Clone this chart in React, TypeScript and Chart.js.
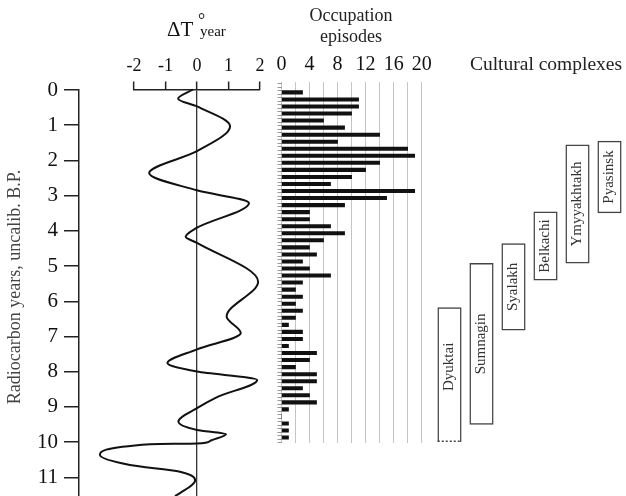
import React, { useEffect, useRef } from 'react';
import { Chart, registerables } from 'chart.js';

Chart.register(...registerables);

const W = 626;
const H = 496;
const SERIF = '"Liberation Serif", "Times New Roman", serif';

// ---- time axis (thousand radiocarbon years B.P.) ----
const TIME_MIN = 0;
const TIME_MAX = 11.53;

// ---- mean annual temperature anomaly curve ----
const tempAges = [0, 0.26, 0.48, 1.04, 1.75, 2.37, 2.86, 3.22, 3.92, 4.18, 4.35, 5.45, 6.44, 6.91, 7.37, 7.76, 8.0, 8.24, 8.73, 9.04, 9.42, 9.66, 9.78, 9.97, 10.04, 10.06, 10.37, 10.65, 10.84, 11.08, 11.45, 11.53];
const tempValues = [-0.13, -0.6, 0, 1.05, 0, -1.52, 0, 1.65, 0, -0.36, 0, 1.94, 0.94, 1.39, 0, -0.94, 0, 1.91, 0.62, 0, -0.59, 0, 0.92, 0.41, 0, -1.49, -3.08, -2.13, -0.54, -0.06, -0.54, -0.7];

// ---- occupation episodes per 200-year bin ----
const binAges = [0, 0.2, 0.4, 0.6, 0.8, 1.0, 1.2, 1.4, 1.6, 1.8, 2.0, 2.2, 2.4, 2.6, 2.8, 3.0, 3.2, 3.4, 3.6, 3.8, 4.0, 4.2, 4.4, 4.6, 4.8, 5.0, 5.2, 5.4, 5.6, 5.8, 6.0, 6.2, 6.4, 6.6, 6.8, 7.0, 7.2, 7.4, 7.6, 7.8, 8.0, 8.2, 8.4, 8.6, 8.8, 9.0, 9.2, 9.4, 9.6, 9.8];
const episodes = [3, 11, 11, 10, 6, 9, 14, 8, 18, 19, 14, 12, 10, 7, 19, 15, 9, 4, 4, 7, 9, 6, 4, 5, 3, 4, 7, 3, 2, 3, 2, 3, 2, 1, 3, 3, 1, 5, 4, 2, 5, 5, 3, 4, 5, 1, 0, 1, 1, 1];

// ---- cultural complexes (age ranges, kyr B.P.) ----
const cultureNames = ['Dyuktai', 'Sumnagin', 'Syalakh', 'Belkachi', 'Ymyyakhtakh', 'Pyasinsk'];
const cultureStart = [6.18, 4.92, 4.36, 3.46, 1.56, 1.45];
const cultureEnd = [10.0, 9.5, 6.82, 5.4, 4.92, 3.49];

const font = (size: number) => ({ family: SERIF, size, weight: 'normal' as const });

const base = {
  animation: false as const,
  responsive: false,
  maintainAspectRatio: false,
  devicePixelRatio: 1,
  events: [] as any[],
};

export default function App() {
  const c1 = useRef<HTMLCanvasElement>(null);
  const c2 = useRef<HTMLCanvasElement>(null);
  const c3 = useRef<HTMLCanvasElement>(null);
  const c4 = useRef<HTMLCanvasElement>(null);

  useEffect(() => {
    const charts: Chart[] = [];

    // ---------- chart 1: time axis ----------
    const yTitlePlugin = {
      id: 'yTitle',
      afterDraw(chart: any) {
        const ctx = chart.ctx;
        ctx.save();
        ctx.translate(15, 287);
        ctx.rotate(-Math.PI / 2);
        ctx.font = `18px ${SERIF}`;
        ctx.fillStyle = '#444';
        ctx.textAlign = 'center';
        ctx.textBaseline = 'middle';
        ctx.fillText('Radiocarbon years, uncalib. B.P.', 0, 0);
        ctx.restore();
      },
    };
    charts.push(
      new Chart(c1.current!, {
        type: 'scatter',
        data: { datasets: [] },
        options: {
          ...base,
          layout: { padding: { left: 0, top: 90, right: W - 79 - 20, bottom: 0 } },
          plugins: { legend: { display: false }, tooltip: { enabled: false }, title: { display: false } },
          scales: {
            x: { display: false, min: 0, max: 1 },
            y: {
              type: 'linear',
              reverse: true,
              min: TIME_MIN,
              max: TIME_MAX,
              afterFit: (s: any) => {
                s.width = 79;
                s.paddingTop = 0;
                s.paddingBottom = 0;
              },
              ticks: { stepSize: 1, includeBounds: false, font: font(21), color: '#111', padding: 6 },
              grid: { drawOnChartArea: false, drawTicks: true, tickLength: 15, color: '#222', lineWidth: 1.5 },
              border: { display: true, color: '#222', width: 1.5 },
            },
          },
        } as any,
        plugins: [yTitlePlugin],
      })
    );

    // ---------- chart 2: temperature anomaly ----------
    const tTitlePlugin = {
      id: 'tTitle',
      afterDraw(chart: any) {
        const ctx = chart.ctx;
        ctx.save();
        ctx.fillStyle = '#111';
        ctx.textBaseline = 'alphabetic';
        ctx.textAlign = 'left';
        ctx.font = `21px ${SERIF}`;
        ctx.fillText('ΔT', 167, 36);
        ctx.font = `18px ${SERIF}`;
        ctx.fillText('°', 198, 26);
        ctx.font = `15px ${SERIF}`;
        ctx.fillText('year', 200, 36);
        ctx.restore();
      },
    };
    charts.push(
      new Chart(c2.current!, {
        type: 'line',
        data: {
          datasets: [
            {
              data: tempAges.map((t, i) => ({ x: tempValues[i], y: t })),
              borderColor: '#111',
              borderWidth: 2,
              pointRadius: 0,
              cubicInterpolationMode: 'monotone',
              clip: false,
              fill: false,
            },
          ],
        },
        options: {
          ...base,
          indexAxis: 'y',
          layout: { padding: { left: 134, right: W - 260, top: 0, bottom: 0 } },
          elements: { line: { capBezierPoints: false } },
          plugins: { legend: { display: false }, tooltip: { enabled: false } },
          scales: {
            x: {
              type: 'linear',
              position: 'top',
              min: -2,
              max: 2,
              afterFit: (s: any) => {
                s.height = 89.5;
                s.paddingLeft = 0;
                s.paddingRight = 0;
              },
              ticks: { stepSize: 1, includeBounds: false, font: font(18), color: '#111', padding: 4, maxRotation: 0, autoSkip: false },
              grid: {
                color: (c: any) => (c.tick && c.tick.value === 0 ? '#333' : 'rgba(0,0,0,0)'),
                lineWidth: 1.3,
                drawOnChartArea: true,
                drawTicks: true,
                tickLength: 8,
                tickColor: '#222',
                tickWidth: 1.5,
              },
              border: { display: true, color: '#222', width: 1.5 },
            },
            y: { type: 'linear', display: false, reverse: true, min: TIME_MIN, max: TIME_MAX },
          },
        } as any,
        plugins: [tTitlePlugin],
      })
    );

    // ---------- chart 3: occupation episodes ----------
    const oTitlePlugin = {
      id: 'oTitle',
      afterDraw(chart: any) {
        const ctx = chart.ctx;
        ctx.save();
        ctx.fillStyle = '#222';
        ctx.font = `18px ${SERIF}`;
        ctx.textAlign = 'center';
        ctx.textBaseline = 'middle';
        ctx.fillText('Occupation', 351, 16);
        ctx.fillText('episodes', 351, 37);
        ctx.restore();
      },
    };
    charts.push(
      new Chart(c3.current!, {
        type: 'bar',
        data: {
          labels: binAges,
          datasets: [{ data: episodes, backgroundColor: '#111', borderWidth: 0, barThickness: 3.4 }],
        },
        options: {
          ...base,
          indexAxis: 'y',
          layout: { padding: { left: 277.5, right: W - 421.7, top: 0, bottom: H - 443 } },
          plugins: { legend: { display: false }, tooltip: { enabled: false } },
          scales: {
            x: {
              type: 'linear',
              position: 'top',
              min: 0,
              max: 20,
              afterFit: (s: any) => {
                s.height = 82;
                s.paddingLeft = 0;
                s.paddingRight = 0;
              },
              ticks: {
                stepSize: 2,
                includeBounds: false,
                autoSkip: false,
                maxRotation: 0,
                font: font(20),
                color: '#111',
                padding: 5,
                callback: (v: any) => (Number(v) % 4 === 0 ? String(v) : ''),
              },
              grid: { color: '#c4c4c4', lineWidth: 1, drawTicks: false },
              border: { display: false },
            },
            y: {
              type: 'linear',
              reverse: true,
              min: -0.245,
              max: 9.904,
              afterFit: (s: any) => {
                s.width = 4;
                s.paddingTop = 0;
                s.paddingBottom = 0;
              },
              ticks: { display: false, stepSize: 0.1, includeBounds: false },
              grid: { drawOnChartArea: false, drawTicks: true, tickLength: 4, color: '#999', lineWidth: 1 },
              border: { display: false },
            },
          },
        } as any,
        plugins: [oTitlePlugin],
      })
    );

    // ---------- chart 4: cultural complexes ----------
    const cLabelPlugin = {
      id: 'cLabels',
      afterDatasetsDraw(chart: any) {
        const ctx = chart.ctx;
        const meta = chart.getDatasetMeta(0);
        ctx.save();
        meta.data.forEach((el: any, i: number) => {
          const p = el.getProps(['x', 'y', 'base', 'width'], true);
          const top = Math.min(p.y, p.base);
          const bottom = Math.max(p.y, p.base);
          if (i === 0) {
            ctx.save();
            ctx.strokeStyle = '#444';
            ctx.lineWidth = 1.5;
            ctx.setLineDash([2, 2]);
            ctx.beginPath();
            ctx.moveTo(p.x - p.width / 2, bottom - 0.75);
            ctx.lineTo(p.x + p.width / 2, bottom - 0.75);
            ctx.stroke();
            ctx.restore();
          }
          const cy = i === 0 ? (top + bottom - 16) / 2 : (top + bottom) / 2;
          ctx.save();
          ctx.translate(p.x, cy);
          ctx.rotate(-Math.PI / 2);
          ctx.font = `15px ${SERIF}`;
          ctx.fillStyle = '#333';
          ctx.textAlign = 'center';
          ctx.textBaseline = 'middle';
          ctx.fillText(cultureNames[i], 0, 0);
          ctx.restore();
        });
        ctx.fillStyle = '#222';
        ctx.font = `19.5px ${SERIF}`;
        ctx.textAlign = 'center';
        ctx.textBaseline = 'middle';
        ctx.fillText('Cultural complexes', 546, 65);
        ctx.restore();
      },
    };
    charts.push(
      new Chart(c4.current!, {
        type: 'bar',
        data: {
          labels: cultureNames,
          datasets: [
            {
              data: cultureNames.map((_, i) => [cultureStart[i], cultureEnd[i]]),
              backgroundColor: '#ffffff',
              borderColor: '#444',
              borderWidth: (c: any) => (c.dataIndex === 0 ? { top: 1.5, left: 1.5, right: 1.5, bottom: 0 } : 1.5),
              borderSkipped: false,
              barThickness: 23.5,
            },
          ],
        },
        options: {
          ...base,
          layout: { padding: { left: 433.5, right: 0.5, top: 90, bottom: 0 } },
          plugins: { legend: { display: false }, tooltip: { enabled: false } },
          scales: {
            x: { type: 'category', display: false },
            y: { type: 'linear', display: false, reverse: true, min: TIME_MIN, max: TIME_MAX },
          },
        } as any,
        plugins: [cLabelPlugin],
      })
    );

    return () => charts.forEach((c) => c.destroy());
  }, []);

  const cs: React.CSSProperties = { position: 'absolute', left: 0, top: 0, width: W, height: H };
  return (
    <div style={{ position: 'absolute', left: 0, top: 0, width: W, height: H, background: '#fff', overflow: 'hidden' }}>
      <canvas ref={c1} width={W} height={H} style={cs} />
      <canvas ref={c2} width={W} height={H} style={cs} />
      <canvas ref={c3} width={W} height={H} style={cs} />
      <canvas ref={c4} width={W} height={H} style={cs} />
    </div>
  );
}
